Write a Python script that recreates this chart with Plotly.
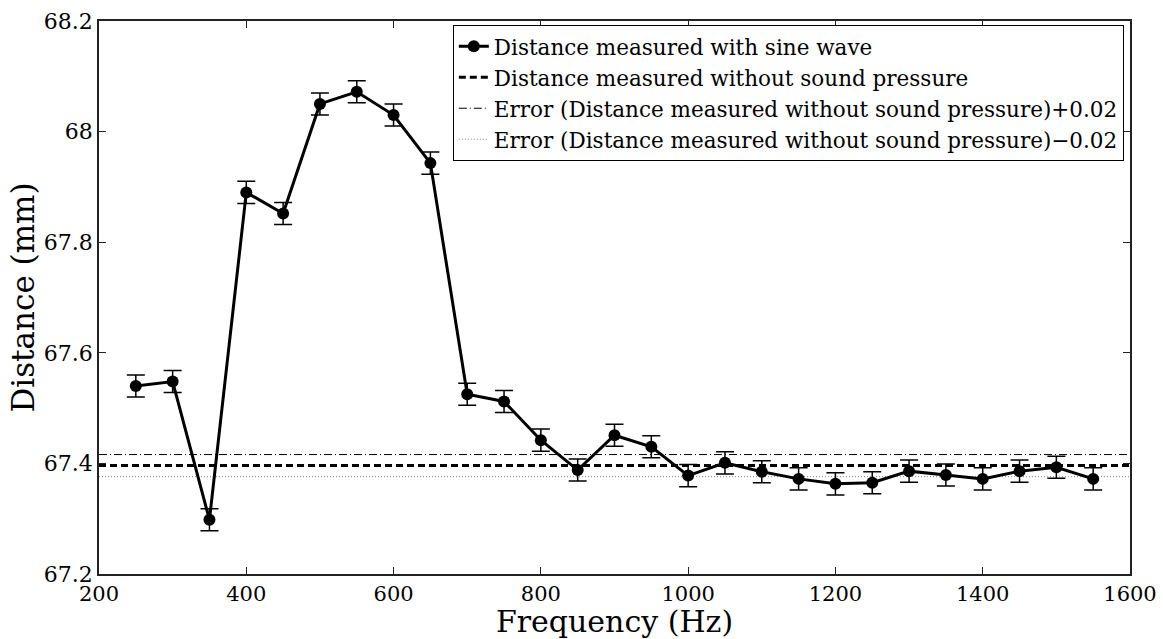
import plotly.graph_objects as go

# Measured distance at each excitation frequency (sine wave)
freq_hz = [250, 300, 350, 400, 450, 500, 550, 600, 650, 700, 750, 800, 850, 900,
           950, 1000, 1050, 1100, 1150, 1200, 1250, 1300, 1350, 1400, 1450, 1500, 1550]
distance_mm = [67.540, 67.548, 67.298, 67.890, 67.852, 68.050, 68.072, 68.030, 67.943,
               67.525, 67.512, 67.442, 67.388, 67.451, 67.430, 67.378, 67.401, 67.385,
               67.372, 67.363, 67.365, 67.386, 67.379, 67.372, 67.386, 67.393, 67.372]
distance_err = [0.02] * len(freq_hz)

# Reference distance without sound pressure and its tolerance band
baseline_mm = 67.396
tolerance_mm = 0.02
x_span = [200, 1600]

x_ticks = [200, 400, 600, 800, 1000, 1200, 1400, 1600]
y_ticks = [67.2, 67.4, 67.6, 67.8, 68.0, 68.2]
y_tick_text = ["67.2", "67.4", "67.6", "67.8", "68", "68.2"]

FONT = "DejaVu Serif"

fig = go.Figure()

fig.add_trace(go.Scatter(
    x=x_span, y=[baseline_mm + tolerance_mm] * 2, mode="lines",
    line=dict(color="black", width=1, dash="8px,3px,1px,3px"),
    name="Error (Distance measured without sound pressure)+0.02", legendrank=3))
fig.add_trace(go.Scatter(
    x=x_span, y=[baseline_mm - tolerance_mm] * 2, mode="lines",
    line=dict(color="#888888", width=1, dash="1px,2px"),
    name="Error (Distance measured without sound pressure)\u22120.02", legendrank=4))
fig.add_trace(go.Scatter(
    x=x_span, y=[baseline_mm] * 2, mode="lines",
    line=dict(color="black", width=3, dash="7px,4px"),
    name="Distance measured without sound pressure", legendrank=2))
fig.add_trace(go.Scatter(
    x=freq_hz, y=distance_mm, mode="lines+markers",
    line=dict(color="black", width=3),
    marker=dict(color="black", size=12, symbol="circle"),
    error_y=dict(type="data", array=distance_err, visible=True,
                 color="black", thickness=1.5, width=9),
    name="Distance measured with sine wave", legendrank=1))

axis_common = dict(
    showgrid=False, zeroline=False, showline=True, linecolor="#222222", linewidth=1.5,
    mirror="ticks", ticks="inside", ticklen=7, tickwidth=1, tickcolor="#222222",
    automargin=False,
)

fig.update_xaxes(
    range=[200, 1600], tickvals=x_ticks,
    tickfont=dict(family=FONT, size=21, color="black"),
    title=dict(text="Frequency (Hz)", font=dict(family=FONT, size=30, color="black"), standoff=4),
    **axis_common)
fig.update_yaxes(
    range=[67.2, 68.2], tickvals=y_ticks, ticktext=y_tick_text,
    tickfont=dict(family=FONT, size=22, color="black"),
    title=dict(text="Distance (mm)", font=dict(family=FONT, size=31, color="black"), standoff=0),
    **axis_common)

fig.update_layout(
    width=1163, height=639,
    margin=dict(l=99, r=33, t=21, b=65),
    paper_bgcolor="white", plot_bgcolor="white",
    font=dict(family=FONT, color="black"),
    showlegend=True,
    legend=dict(
        x=0.994, y=0.993, xanchor="right", yanchor="top",
        bgcolor="white", bordercolor="black", borderwidth=1,
        font=dict(family=FONT, size=21.5, color="black"),
        tracegroupgap=0, itemwidth=30,
    ),
)

fig.write_html("out.html")
